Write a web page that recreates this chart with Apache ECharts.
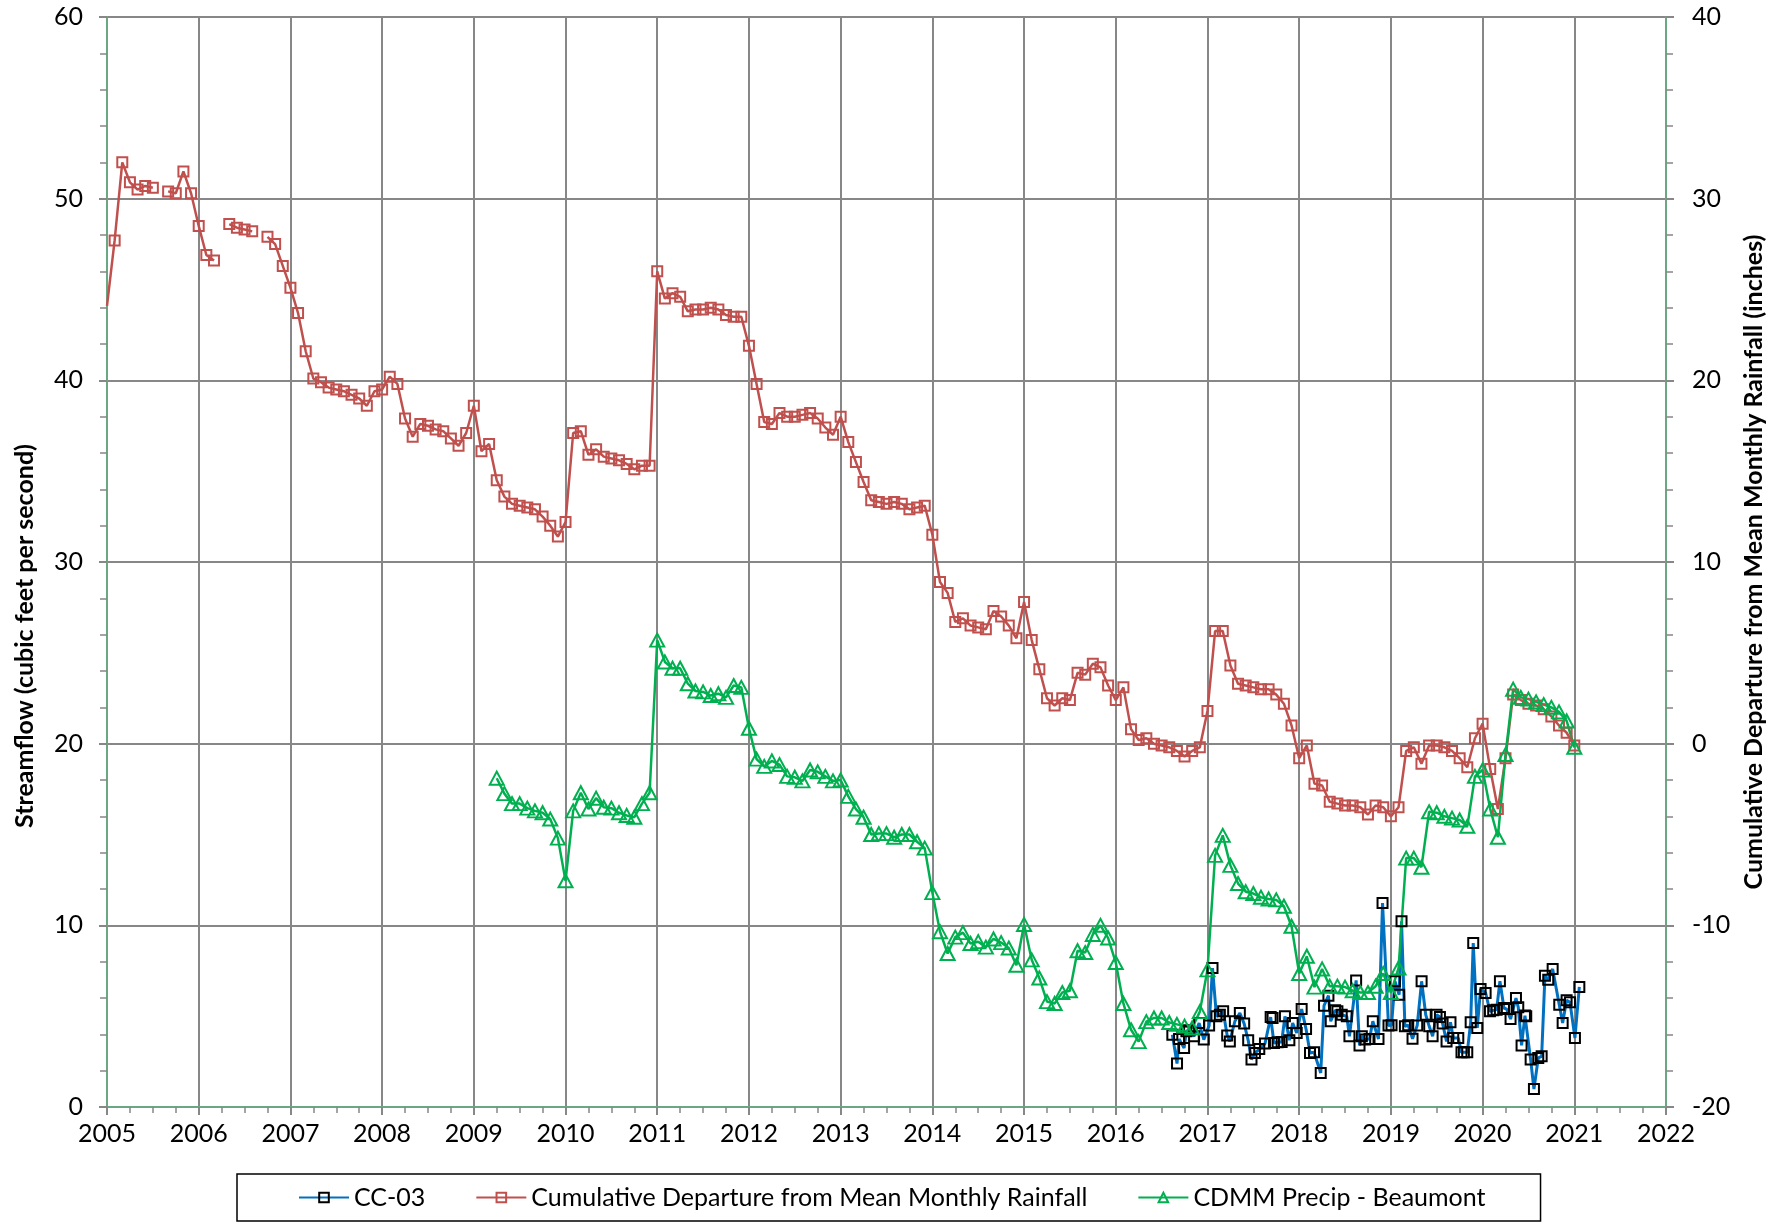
<!DOCTYPE html>
<html>
<head>
<meta charset="utf-8">
<title>CC-03 Streamflow</title>
<script src="https://cdn.jsdelivr.net/npm/echarts@6/dist/echarts.min.js"></script>
<style>
  html, body { margin: 0; padding: 0; background: #fff; }
  #main { width: 1783px; height: 1225px; }
</style>
</head>
<body>
<div id="main"></div>
<script>
// x values are decimal years; monthly values sit at month end (Dec 2004 end = 2005.0)
var yearTicks = [2005, 2022];

// Cumulative Departure from Mean Monthly Rainfall (inches), monthly from Dec 2004
var redStart = 2005;
var redValues = [
  24.1,
  27.7, 32.0, 30.9, 30.5, 30.7, 30.6, null, 30.4, 30.3, 31.5, 30.3, 28.5,   // 2005
  26.9, 26.6, null, 28.6, 28.4, 28.3, 28.2, null, 27.9, 27.5, 26.3, 25.1,   // 2006
  23.7, 21.6, 20.1, 19.9, 19.6, 19.5, 19.4, 19.2, 19.0, 18.6, 19.4, 19.5,   // 2007
  20.2, 19.8, 17.9, 16.9, 17.6, 17.5, 17.3, 17.2, 16.8, 16.4, 17.1, 18.6,   // 2008
  16.1, 16.5, 14.5, 13.6, 13.2, 13.1, 13.0, 12.9, 12.5, 12.0, 11.4, 12.2,   // 2009
  17.1, 17.2, 15.9, 16.2, 15.8, 15.7, 15.6, 15.4, 15.1, 15.3, 15.3, 26.0,   // 2010
  24.5, 24.8, 24.6, 23.8, 23.9, 23.9, 24.0, 23.9, 23.6, 23.5, 23.5, 21.9,   // 2011
  19.8, 17.7, 17.6, 18.2, 18.0, 18.0, 18.1, 18.2, 17.9, 17.4, 17.0, 18.0,   // 2012
  16.6, 15.5, 14.4, 13.4, 13.3, 13.2, 13.3, 13.2, 12.9, 13.0, 13.1, 11.5,   // 2013
  8.9, 8.3, 6.7, 6.9, 6.5, 6.4, 6.3, 7.3, 7.0, 6.5, 5.8, 7.8,               // 2014
  5.7, 4.1, 2.5, 2.1, 2.5, 2.4, 3.9, 3.8, 4.4, 4.2, 3.2, 2.4,               // 2015
  3.1, 0.8, 0.2, 0.3, 0.0, -0.1, -0.2, -0.4, -0.7, -0.4, -0.2, 1.8,         // 2016
  6.2, 6.2, 4.3, 3.3, 3.2, 3.1, 3.0, 3.0, 2.7, 2.2, 1.0, -0.8,              // 2017
  -0.1, -2.2, -2.3, -3.2, -3.3, -3.4, -3.4, -3.5, -3.9, -3.4, -3.5, -4.0,   // 2018
  -3.5, -0.4, -0.2, -1.1, -0.1, -0.1, -0.2, -0.4, -0.8, -1.3, 0.3, 1.1,     // 2019
  -1.4, -3.6, -0.8, 2.7, 2.4, 2.2, 2.1, 1.9, 1.5, 1.0, 0.6, -0.1            // 2020
];

// CDMM Precip - Beaumont (inches), monthly from Mar 2009
var greenStart = 2009 + 3 / 12;
var greenValues = [
  -1.9, -2.75, -3.3, -3.3, -3.55, -3.7, -3.8, -4.15, -5.2, -7.55,                  // 2009
  -3.7, -2.7, -3.6, -3.0, -3.5, -3.55, -3.8, -3.95, -4.05, -3.3, -2.7, 5.7,        // 2010
  4.5, 4.15, 4.15, 3.3, 2.9, 2.85, 2.65, 2.75, 2.55, 3.2, 3.1, 0.85,               // 2011
  -0.85, -1.25, -0.95, -1.15, -1.8, -1.85, -2.05, -1.45, -1.55, -1.8, -2.05, -2.0, // 2012
  -2.9, -3.6, -4.05, -5.0, -4.95, -4.95, -5.15, -5.0, -5.0, -5.4, -5.75, -8.2,     // 2013
  -10.35, -11.55, -10.65, -10.4, -11.0, -10.9, -11.2, -10.75, -10.95, -11.25, -12.2, -9.95, // 2014
  -11.9, -12.9, -14.2, -14.3, -13.7, -13.6, -11.4, -11.5, -10.5, -10.0, -10.7, -12.05,     // 2015
  -14.3, -15.75, -16.4, -15.3, -15.1, -15.1, -15.35, -15.45, -15.55, -15.65, -14.75, -12.45, // 2016
  -6.15, -5.05, -6.7, -7.7, -8.15, -8.25, -8.45, -8.55, -8.6, -8.95, -10.05, -12.65,       // 2017
  -11.7, -13.4, -12.4, -13.35, -13.35, -13.4, -13.6, -13.7, -13.7, -13.35, -12.65, -13.7,  // 2018
  -12.35, -6.3, -6.3, -6.8, -3.75, -3.8, -4.0, -4.1, -4.2, -4.55, -1.8, -1.45,             // 2019
  -3.6, -5.15, -0.6, 3.0, 2.55, 2.45, 2.3, 2.15, 2.0, 1.75, 1.25, -0.2                     // 2020
];

// CC-03 streamflow (cfs)
var blueDates = [
  2016.617, 2016.668, 2016.690, 2016.745, 2016.770, 2016.800, 2016.854, 2016.909, 2016.960,
  2017.018, 2017.055, 2017.098, 2017.135, 2017.171, 2017.215, 2017.244, 2017.299, 2017.353,
  2017.400, 2017.444, 2017.480, 2017.517, 2017.565, 2017.627, 2017.689, 2017.710, 2017.725,
  2017.765, 2017.809, 2017.845, 2017.893, 2017.929, 2017.973,
  2018.027, 2018.075, 2018.118, 2018.162, 2018.235, 2018.271, 2018.319, 2018.344, 2018.392,
  2018.417, 2018.464, 2018.519, 2018.548, 2018.621, 2018.658, 2018.683, 2018.720, 2018.767,
  2018.803, 2018.865, 2018.909, 2018.974,
  2019.007, 2019.044, 2019.090, 2019.116, 2019.153, 2019.189, 2019.236, 2019.287, 2019.335,
  2019.380, 2019.418, 2019.455, 2019.498, 2019.535, 2019.564, 2019.607, 2019.650, 2019.680,
  2019.735, 2019.770, 2019.796, 2019.833, 2019.870, 2019.898, 2019.942, 2019.978,
  2020.033, 2020.080, 2020.116, 2020.153, 2020.189, 2020.233, 2020.262, 2020.305, 2020.364,
  2020.389, 2020.425, 2020.462, 2020.476, 2020.524, 2020.560, 2020.607, 2020.644, 2020.680,
  2020.716, 2020.764, 2020.836, 2020.873, 2020.916, 2020.953, 2021.007, 2021.055
];
var blueValues = [
  3.98, 2.39, 3.74, 3.25, 4.17, 4.22, 3.89, 4.62, 3.71,
  4.48, 7.65, 4.99, 5.08, 5.27, 3.93, 3.61, 4.72, 5.17,
  4.59, 3.67, 2.61, 2.97, 3.19, 3.49, 4.95, 4.90, 3.52,
  3.56, 3.58, 4.99, 3.67, 4.62, 4.07,
  5.39, 4.29, 2.97, 3.01, 1.87, 5.58, 6.13, 4.72, 5.32,
  5.27, 5.08, 4.99, 3.89, 6.97, 3.39, 3.89, 3.71, 3.74,
  4.72, 3.74, 11.23, 4.48,
  4.50, 6.92, 6.18, 10.22, 4.44, 4.50, 3.76, 4.48, 6.92,
  5.08, 4.44, 3.89, 5.08, 4.95, 4.59, 3.61, 4.66, 3.80,
  3.80, 3.01, 3.01, 3.01, 4.66, 9.03, 4.35, 6.50,
  6.28, 5.27, 5.32, 5.36, 6.92, 5.45, 5.39, 4.84, 6.00,
  5.49, 3.39, 5.03, 4.99, 2.61, 0.99, 2.70, 2.79, 7.23,
  7.01, 7.60, 5.63, 4.62, 5.87, 5.76, 3.80, 6.61
];

var seriesNames = ['CC-03', 'Cumulative Departure from Mean Monthly Rainfall', 'CDMM Precip - Beaumont'];

function monthly(start, values) {
  return values.map(function (v, i) {
    return [start + i / 12, v];
  });
}

var redData = monthly(redStart, redValues);
// first point is the end of Dec 2004, drawn on the axis edge without a marker
redData[0] = { value: redData[0], symbol: 'none' };
var greenData = monthly(greenStart, greenValues);
var blueData = blueDates.map(function (d, i) { return [d, blueValues[i]]; });

var FONT = 'Lato, "Open Sans", sans-serif';
var AXIS_COLOR = '#6aa884';
var GRID_COLOR = '#878787';

var myChart = echarts.init(document.getElementById('main'));

var option = {
  animation: false,
  backgroundColor: '#fff',
  textStyle: { fontFamily: FONT, color: '#000' },
  grid: {
    left: 107, right: 117, top: 17, bottom: 118,
    show: true, borderColor: '#00B050', borderWidth: 2
  },
  legend: {
    data: seriesNames,
    left: 237, top: 1174,
    padding: [11, 55, 11, 61],
    itemGap: 50, itemWidth: 50, itemHeight: 12,
    borderColor: '#000', borderWidth: 1.5,
    selectedMode: false,
    textStyle: { fontFamily: FONT, fontSize: 25, color: '#000' }
  },
  xAxis: {
    type: 'value',
    min: yearTicks[0], max: yearTicks[1], interval: 1,
    axisLine: { lineStyle: { color: AXIS_COLOR, width: 2 } },
    axisTick: { length: 8, lineStyle: { color: GRID_COLOR, width: 2 } },
    minorTick: { show: true, splitNumber: 4, length: 6, lineStyle: { color: GRID_COLOR, width: 1.5 } },
    splitLine: { show: true, lineStyle: { color: GRID_COLOR, width: 2 } },
    axisLabel: {
      fontSize: 25, color: '#000', margin: 14,
      formatter: function (v) { return String(v); }
    }
  },
  yAxis: [
    {
      type: 'value', position: 'left',
      min: 0, max: 60, interval: 10,
      name: 'Streamflow (cubic feet per second)',
      nameLocation: 'middle', nameRotate: 90, nameGap: 70,
      nameTextStyle: { fontSize: 25, fontWeight: 'bold', color: '#000', padding: [0, 148, 0, 0] },
      axisLine: { show: true, lineStyle: { color: AXIS_COLOR, width: 2 } },
      axisTick: { show: true, length: 8, lineStyle: { color: GRID_COLOR, width: 2 } },
      minorTick: { show: true, splitNumber: 5, length: 7, lineStyle: { color: GRID_COLOR, width: 1.5 } },
      splitLine: { show: true, lineStyle: { color: GRID_COLOR, width: 2 } },
      axisLabel: { fontSize: 25, color: '#000', margin: 24 }
    },
    {
      type: 'value', position: 'right',
      min: -20, max: 40, interval: 10,
      name: 'Cumulative Departure from Mean Monthly Rainfall (inches)',
      nameLocation: 'middle', nameRotate: 90, nameGap: 73,
      nameTextStyle: { fontSize: 25, fontWeight: 'bold', color: '#000' },
      axisLine: { show: true, lineStyle: { color: AXIS_COLOR, width: 2 } },
      axisTick: { show: true, length: 8, lineStyle: { color: GRID_COLOR, width: 2 } },
      minorTick: { show: true, splitNumber: 5, length: 7, lineStyle: { color: GRID_COLOR, width: 1.5 } },
      splitLine: { show: false },
      axisLabel: { fontSize: 25, color: '#000', margin: 26 }
    }
  ],
  series: [
    {
      name: seriesNames[0],
      type: 'line', yAxisIndex: 0,
      data: blueData,
      symbol: 'rect', symbolSize: 10,
      lineStyle: { color: '#0070C0', width: 3 },
      itemStyle: { color: 'rgba(255,255,255,0)', borderColor: '#000', borderWidth: 2 }
    },
    {
      name: seriesNames[1],
      type: 'line', yAxisIndex: 1,
      data: redData,
      connectNulls: false,
      symbol: 'rect', symbolSize: 10,
      lineStyle: { color: '#C0504D', width: 2.5 },
      itemStyle: { color: 'rgba(255,255,255,0)', borderColor: '#C0504D', borderWidth: 2 }
    },
    {
      name: seriesNames[2],
      type: 'line', yAxisIndex: 1,
      data: greenData,
      symbol: 'triangle', symbolSize: [14, 13],
      lineStyle: { color: '#00B050', width: 2.5 },
      itemStyle: { color: 'rgba(255,255,255,0)', borderColor: '#00B050', borderWidth: 2 }
    }
  ]
};

myChart.setOption(option);
</script>
</body>
</html>
